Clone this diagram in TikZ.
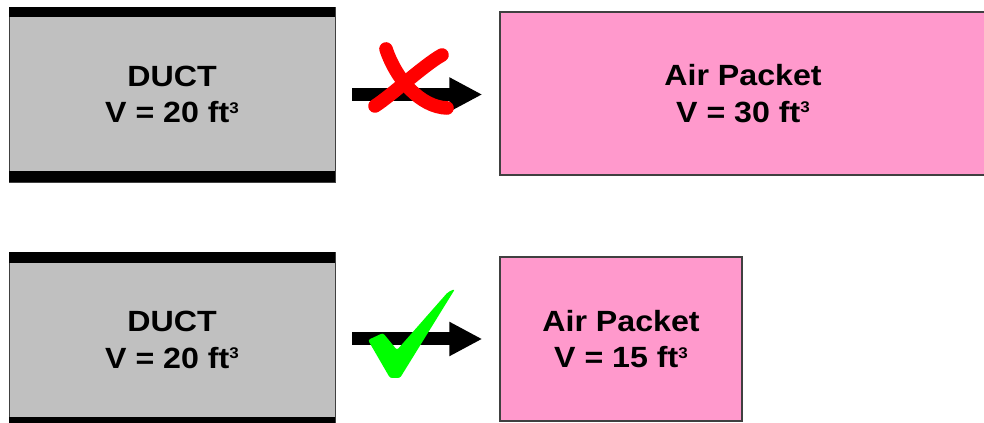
\documentclass[tikz,border=0pt]{standalone}
\usepackage{fontspec}
\setmainfont{Liberation Sans}[FakeStretch=1.1]
\usetikzlibrary{arrows.meta}
\definecolor{ductgray}{HTML}{C0C0C0}
\definecolor{packetpink}{HTML}{FF99CC}
\definecolor{edgegray}{HTML}{404040}
\definecolor{checkgreen}{HTML}{00FF00}
\newcommand{\cubed}{\raisebox{7pt}{\fontsize{11}{11}\selectfont 3}}
\begin{document}
\begin{tikzpicture}
    \tikzstyle{boxtext}=[align=center,font=\bfseries\fontsize{20.8}{26.2}\selectfont]
    \tikzstyle{duct}=[boxtext,draw=edgegray,line width=0.6pt,fill=ductgray,minimum width=8.15cm,minimum height=4.375cm,inner sep=0pt]
    \tikzstyle{packet}=[boxtext,draw=edgegray,line width=1pt,fill=packetpink,inner sep=0pt]
    \tikzstyle{flow}=[line width=0.325cm,-{Triangle[length=0.825cm,width=0.8cm]},shorten <=0.425cm,shorten >=0.425cm]
    \tikzstyle{penstroke}=[line width=0.34cm,line cap=round,line join=round]

    \useasboundingbox (0,0) rectangle (24.6,10.575);

    \node[duct] (duct_big) at (4.3,8.2125) {DUCT\\ V = 20 ft\cubed};
    \node[packet,minimum width=12.15cm,minimum height=4.075cm] (packet_big) at (18.575,8.2375) {Air Packet\\ V = 30 ft\cubed};
    \node[duct] (duct_small) at (4.3,2.07) {DUCT\\ V = 20 ft\cubed};
    \node[packet,minimum width=6.05cm,minimum height=4.1cm] (packet_small) at (15.525,2.1) {Air Packet\\ V = 15 ft\cubed};

    % duct walls
    \foreach \d in {duct_big,duct_small} {
        \fill (\d.north west) rectangle ([yshift=-0.27cm]\d.north east);
        \fill (\d.south west) rectangle ([yshift=0.29cm]\d.south east);
    }

    \draw[flow] (duct_big.east) -- (duct_big.east -| packet_big.west);
    \draw[flow] (duct_small.east |- packet_small.west) -- (packet_small.west);

    % red cross
    \draw[penstroke,red] (9.65,9.35) .. controls (9.9,8.6) and (10.5,7.9) .. (11.175,7.875);
    \draw[penstroke,red] (11.05,9.2) .. controls (10.6,8.95) and (9.8,8.2) .. (9.375,7.925);

    % green tick
    \fill[checkgreen,rounded corners=1.5pt] (9.2,2.075) -- (9.575,2.25) -- (9.925,1.825) -- (11.2,3.275) -- (11.375,3.35) -- (10.0,1.125) -- (9.75,1.125) -- cycle;
\end{tikzpicture}
\end{document}
